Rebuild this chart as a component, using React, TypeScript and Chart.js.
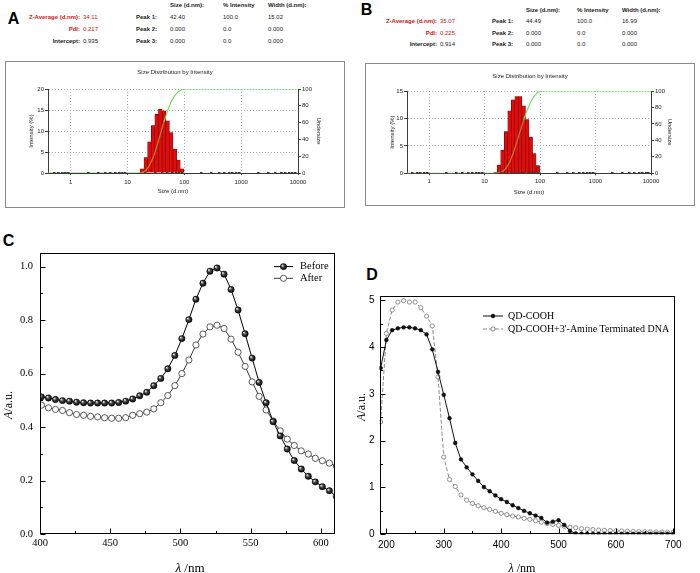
import React, { useEffect, useRef } from 'react';
import { Chart, registerables } from 'chart.js';

Chart.register(...registerables);

const SANS = '"Liberation Sans", Arial, Helvetica, sans-serif';
const SERIF = '"Liberation Serif", "Times New Roman", Times, serif';

// ---------------- Panel A / B : DLS size distribution ----------------
const BIN_SIZES = [15.69, 18.17, 21.04, 24.36, 28.21, 32.67, 37.84, 43.82, 50.75, 58.77, 68.06, 78.82, 91.28];
const A_INTENSITY = [0, 1.0, 3.7, 7.4, 11.3, 14.0, 15.2, 14.8, 12.4, 9.6, 5.7, 3.1, 1.0];
const B_INTENSITY = [0.2, 1.5, 4.2, 7.6, 11.4, 13.4, 14.0, 14.0, 12.3, 9.8, 6.6, 3.6, 1.4];

const UNDERSIZE_SIZES = [0.4, 13.54, 15.69, 18.17, 21.04, 24.36, 28.21, 32.67, 37.84, 43.82, 50.75, 58.77, 68.06, 78.82, 91.28, 105.7, 10000];
const A_UNDERSIZE = [0, 0, 0, 0.5, 3, 9, 18, 31, 46, 61, 74, 85, 92, 97, 99.5, 100, 100];
const B_UNDERSIZE = [0, 0, 0, 0.5, 2, 6, 13, 24, 37, 51, 65, 77, 87, 94, 98.5, 100, 100];

const LOG_MAJOR_TICKS = [1, 10, 100, 1000, 10000];

const TABLE_HEADERS = ['Size (d.nm):', '% Intensity', 'Width (d.nm):'];
const SUMMARY_LABELS = ['Z-Average (d.nm):', 'PdI:', 'Intercept:'];
const PEAK_LABELS = ['Peak 1:', 'Peak 2:', 'Peak 3:'];
const A_SUMMARY = ['34.11', '0.217', '0.935'];
const A_PEAKS = [['42.40', '100.0', '15.02'], ['0.000', '0.0', '0.000'], ['0.000', '0.0', '0.000']];
const B_SUMMARY = ['35.07', '0.225', '0.914'];
const B_PEAKS = [['44.49', '100.0', '16.99'], ['0.000', '0.0', '0.000'], ['0.000', '0.0', '0.000']];

// ---------------- Panel C : absorbance before / after ----------------
const C_WAVELENGTH = [401, 406, 411, 416, 421, 426, 431, 436, 441, 446, 451, 456, 461, 466, 471, 476, 481, 486, 491, 496, 501, 506, 511, 516, 521, 526, 531, 536, 541, 546, 551, 556, 561, 566, 571, 576, 581, 586, 591, 596, 601, 606, 611];
const C_BEFORE = [0.513, 0.509, 0.503, 0.499, 0.497, 0.493, 0.491, 0.490, 0.490, 0.490, 0.490, 0.492, 0.497, 0.505, 0.517, 0.530, 0.555, 0.582, 0.618, 0.668, 0.731, 0.802, 0.878, 0.938, 0.983, 0.995, 0.972, 0.915, 0.838, 0.749, 0.658, 0.567, 0.491, 0.420, 0.367, 0.318, 0.275, 0.243, 0.216, 0.195, 0.177, 0.162, 0.140];
const C_AFTER = [0.482, 0.472, 0.466, 0.462, 0.454, 0.447, 0.444, 0.440, 0.438, 0.435, 0.433, 0.433, 0.435, 0.444, 0.450, 0.456, 0.468, 0.491, 0.518, 0.555, 0.600, 0.651, 0.707, 0.748, 0.775, 0.781, 0.769, 0.729, 0.680, 0.627, 0.569, 0.515, 0.464, 0.423, 0.386, 0.355, 0.331, 0.311, 0.299, 0.283, 0.274, 0.265, 0.254];
const C_LABELS = ['Before', 'After'];

// ---------------- Panel D : QD absorbance ----------------
const D_WAVELENGTH = [190, 200, 210, 220, 230, 240, 250, 260, 270, 280, 290, 300, 310, 320, 330, 340, 350, 360, 370, 380, 390, 400, 410, 420, 430, 440, 450, 460, 470, 480, 490, 500, 510, 520, 530, 540, 550, 560, 570, 580, 590, 600, 610, 620, 630, 640, 650, 660, 670, 680, 690, 700];
const D_QD_COOH = [3.55, 4.15, 4.36, 4.40, 4.42, 4.42, 4.40, 4.36, 4.27, 3.95, 3.47, 2.98, 2.48, 1.95, 1.60, 1.43, 1.28, 1.14, 1.01, 0.92, 0.83, 0.75, 0.69, 0.62, 0.56, 0.50, 0.45, 0.40, 0.35, 0.25, 0.27, 0.30, 0.20, 0.07, 0.02, 0.015, 0.012, 0.01, 0.01, 0.01, 0.01, 0.01, 0.01, 0.01, 0.01, 0.01, 0.01, 0.01, 0.01, 0.01, 0.01, 0.01];
const D_QD_DNA = [2.40, 4.29, 4.79, 4.96, 4.99, 4.96, 4.96, 4.84, 4.66, 4.45, 3.36, 1.65, 1.17, 1.02, 0.84, 0.73, 0.66, 0.61, 0.57, 0.53, 0.49, 0.45, 0.42, 0.39, 0.37, 0.34, 0.32, 0.29, 0.26, 0.23, 0.21, 0.19, 0.17, 0.15, 0.14, 0.12, 0.11, 0.10, 0.09, 0.085, 0.08, 0.075, 0.07, 0.065, 0.06, 0.058, 0.055, 0.052, 0.05, 0.048, 0.045, 0.043];
const D_LABELS = ['QD-COOH', "QD-COOH+3'-Amine Terminated DNA"];

// ---------------- helpers ----------------
const RED = '#e40a0a';
const DARK_RED = '#5a0000';
const GREEN = '#74e06a';
const OLIVE = '#b8862a';
const AXIS = '#3a3a3a';
const GRID = '#a8a8a8';
const TXT = '#222';

function sphere(ctx: CanvasRenderingContext2D, x: number, y: number, r: number): any {
  if (!isFinite(x) || !isFinite(y) || !isFinite(r)) return '#111';
  const g = ctx.createRadialGradient(x - r * 0.4, y - r * 0.4, r * 0.1, x, y, r);
  g.addColorStop(0, '#e6e6e6');
  g.addColorStop(0.4, '#4a4a4a');
  g.addColorStop(1, '#000');
  return g;
}

function ChartCanvas({ left, top, width, height, build }: { left: number; top: number; width: number; height: number; build: () => any }) {
  const ref = useRef<HTMLCanvasElement | null>(null);
  useEffect(() => {
    if (!ref.current) return;
    const chart = new Chart(ref.current, build());
    return () => chart.destroy();
  }, []);
  return (
    <canvas
      ref={ref}
      width={width}
      height={height}
      style={{ position: 'absolute', left, top, width, height, display: 'block' }}
    />
  );
}

const logMinorTicks = {
  id: 'logMinorTicks',
  afterDraw(chart: any) {
    const xs = chart.scales.x;
    const { ctx, chartArea: a } = chart;
    ctx.save();
    ctx.fillStyle = AXIS;
    for (let e = -1; e <= 4; e++) {
      for (let s = 2; s <= 9; s++) {
        const v = s * Math.pow(10, e);
        if (v <= xs.min || v >= xs.max) continue;
        const px = xs.getPixelForValue(v);
        ctx.fillRect(Math.round(px) - 1, Math.round(a.bottom) - 1, 2.5, 2);
      }
    }
    ctx.restore();
  },
};

function dlsConfig(p: {
  intensity: number[]; undersize: number[]; yMax: number;
  yW: number; y2W: number; xH: number; titleTop: number; titleBottom: number;
  xTitlePad: number; yTitlePad: number; y2TitlePad: number; xTickPad: number;
}) {
  const f = (size: number) => ({ family: SANS, size, weight: 'normal' as const });
  const barAt = (x: number) => {
    const i = BIN_SIZES.indexOf(x);
    return i >= 0 ? p.intensity[i] : 0;
  };
  return {
    type: 'bar',
    data: {
      datasets: [
        {
          type: 'line',
          data: UNDERSIZE_SIZES.map((x, i) => ({ x, y: p.undersize[i] })),
          yAxisID: 'y2',
          borderColor: GREEN,
          borderWidth: 1.2,
          pointRadius: 0,
          tension: 0,
          order: 0,
          segment: {
            borderColor: (c: any) => {
              const x1 = c.p1.parsed.x;
              const yL = (c.p1.parsed.y * p.yMax) / 100;
              return c.p1.parsed.y > 0 && barAt(x1) > yL ? OLIVE : GREEN;
            },
          },
        },
        {
          type: 'bar',
          data: BIN_SIZES.map((x, i) => ({ x, y: p.intensity[i] })),
          yAxisID: 'y',
          backgroundColor: RED,
          borderColor: DARK_RED,
          borderWidth: 0.6,
          barPercentage: 1,
          categoryPercentage: 1,
          order: 1,
        },
      ],
    },
    options: {
      responsive: false,
      devicePixelRatio: 1,
      animation: false,
      events: [],
      layout: { padding: 0 },
      plugins: {
        legend: { display: false },
        tooltip: { enabled: false },
        title: {
          display: true,
          text: 'Size Distribution by Intensity',
          font: f(6),
          color: TXT,
          padding: { top: p.titleTop, bottom: p.titleBottom },
        },
      },
      scales: {
        x: {
          type: 'logarithmic',
          min: 0.4,
          max: 10000,
          offset: false,
          afterBuildTicks: (s: any) => {
            s.ticks = LOG_MAJOR_TICKS.map((v) => ({ value: v, major: true }));
          },
          ticks: { autoSkip: false, maxRotation: 0, padding: p.xTickPad, font: f(6), color: TXT, callback: (v: any) => String(v) },
          grid: { offset: false, color: GRID, lineWidth: 1, drawTicks: true, tickLength: 2, tickColor: AXIS },
          border: { display: true, color: AXIS, width: 1, dash: [1, 2] },
          title: { display: true, text: 'Size (d.nm)', font: f(6), color: TXT, padding: { top: 0, bottom: p.xTitlePad } },
          afterFit: (s: any) => { s.height = p.xH; },
        },
        y: {
          type: 'linear',
          position: 'left',
          min: 0,
          max: p.yMax,
          ticks: { stepSize: 5, padding: 1, font: f(6), color: TXT },
          grid: { color: GRID, lineWidth: 1, tickLength: 3, tickColor: AXIS },
          border: { display: true, color: AXIS, width: 1, dash: [1, 2] },
          title: { display: true, text: 'Intensity (%)', font: f(6), color: TXT, padding: { top: p.yTitlePad, bottom: 0 } },
          afterFit: (s: any) => { s.width = p.yW; },
        },
        y2: {
          type: 'linear',
          position: 'right',
          min: 0,
          max: 100,
          ticks: { stepSize: 20, padding: 1, font: f(6), color: TXT },
          grid: { drawOnChartArea: false, tickLength: 3, tickColor: AXIS },
          border: { display: true, color: AXIS, width: 1 },
          title: { display: true, text: 'Undersize', font: f(6), color: TXT, padding: { top: p.y2TitlePad, bottom: 0 } },
          afterFit: (s: any) => { s.width = p.y2W; },
        },
      },
    },
    plugins: [logMinorTicks],
  };
}

function frameTicks(majorLen: number, minorLen: number) {
  return {
    id: 'frameTicks',
    afterDraw(chart: any) {
      const { ctx, chartArea: a, scales } = chart;
      const xs = scales.x, ys = scales.y;
      const L = Math.round(a.left) + 0.5, R = Math.round(a.right) - 0.5;
      const T = Math.round(a.top) + 0.5, B = Math.round(a.bottom) - 0.5;
      ctx.save();
      ctx.strokeStyle = '#000';
      ctx.lineWidth = 1;
      ctx.strokeRect(L, T, R - L, B - T);
      const xv = xs.ticks.map((t: any) => t.value);
      const yv = ys.ticks.map((t: any) => t.value);
      const mids = (v: number[]) => v.slice(1).map((t, i) => (t + v[i]) / 2);
      ctx.beginPath();
      xv.forEach((v: number) => { const px = Math.round(xs.getPixelForValue(v)) + 0.5; ctx.moveTo(px, B); ctx.lineTo(px, B - majorLen); });
      mids(xv).forEach((v: number) => { const px = Math.round(xs.getPixelForValue(v)) + 0.5; ctx.moveTo(px, B); ctx.lineTo(px, B - minorLen); });
      yv.forEach((v: number) => { const py = Math.round(ys.getPixelForValue(v)) + 0.5; ctx.moveTo(L, py); ctx.lineTo(L + majorLen, py); });
      mids(yv).forEach((v: number) => { const py = Math.round(ys.getPixelForValue(v)) + 0.5; ctx.moveTo(L, py); ctx.lineTo(L + minorLen, py); });
      ctx.stroke();
      ctx.restore();
    },
  };
}

function legendPlugin(labels: string[], pos: (a: any) => { x1: number; x2: number; tx: number; ys: number[] }, font: string) {
  return {
    id: 'inlineLegend',
    afterDraw(chart: any) {
      const ctx = chart.ctx as CanvasRenderingContext2D;
      const p = pos(chart.chartArea);
      ctx.save();
      labels.forEach((label, k) => {
        const ds = chart.data.datasets[k];
        const y = p.ys[k];
        ctx.strokeStyle = ds.borderColor;
        ctx.lineWidth = ds.borderWidth;
        ctx.setLineDash(ds.borderDash || []);
        ctx.beginPath();
        ctx.moveTo(p.x1, y);
        ctx.lineTo(p.x2, y);
        ctx.stroke();
        ctx.setLineDash([]);
        const mx = (p.x1 + p.x2) / 2;
        const r = ds.pointRadius;
        ctx.beginPath();
        ctx.arc(mx, y, r, 0, Math.PI * 2);
        ctx.fillStyle = typeof ds.pointBackgroundColor === 'function' ? sphere(ctx, mx, y, r) : ds.pointBackgroundColor;
        ctx.fill();
        ctx.lineWidth = ds.pointBorderWidth;
        ctx.strokeStyle = ds.pointBorderColor;
        ctx.stroke();
        ctx.fillStyle = '#000';
        ctx.font = font;
        ctx.textAlign = 'left';
        ctx.textBaseline = 'middle';
        ctx.fillText(label, p.tx, y);
      });
      ctx.restore();
    },
  };
}

function sphereColor(r: number) {
  return (c: any) => {
    if (!c || c.type !== 'data' || !c.parsed) return '#111';
    const ch = c.chart;
    const xs = ch.scales && ch.scales.x, ys = ch.scales && ch.scales.y;
    if (!xs || !ys) return '#111';
    return sphere(ch.ctx, xs.getPixelForValue(c.parsed.x), ys.getPixelForValue(c.parsed.y), r);
  };
}

function cConfig() {
  const tickFont = { family: SERIF, size: 10.5 };
  return {
    type: 'line',
    data: {
      datasets: [
        {
          label: C_LABELS[0],
          data: C_WAVELENGTH.map((x, i) => ({ x, y: C_BEFORE[i] })),
          borderColor: '#000',
          borderWidth: 1,
          tension: 0,
          pointRadius: 3.2,
          pointBorderWidth: 0.4,
          pointBorderColor: '#000',
          pointBackgroundColor: sphereColor(3.2),
        },
        {
          label: C_LABELS[1],
          data: C_WAVELENGTH.map((x, i) => ({ x, y: C_AFTER[i] })),
          borderColor: '#222',
          borderWidth: 0.9,
          tension: 0,
          pointRadius: 3.1,
          pointBorderWidth: 0.8,
          pointBorderColor: '#333',
          pointBackgroundColor: '#fff',
        },
      ],
    },
    options: {
      responsive: false,
      devicePixelRatio: 1,
      animation: false,
      events: [],
      layout: { padding: { top: 10, right: 10, left: 0, bottom: 0 } },
      plugins: { legend: { display: false }, tooltip: { enabled: false }, title: { display: false } },
      scales: {
        x: {
          type: 'linear',
          min: 400,
          max: 610,
          ticks: { stepSize: 50, includeBounds: false, padding: 3, font: tickFont, color: '#000', maxRotation: 0, autoSkip: false },
          grid: { display: false, drawTicks: false },
          border: { display: false },
          afterFit: (s: any) => { s.height = 39; },
        },
        y: {
          type: 'linear',
          min: 0,
          max: 1.05,
          ticks: { stepSize: 0.2, includeBounds: false, padding: 7, font: tickFont, color: '#000', callback: (v: any) => Number(v).toFixed(1) },
          grid: { display: false, drawTicks: false },
          border: { display: false },
          afterFit: (s: any) => { s.width = 40; },
        },
      },
    },
    plugins: [
      frameTicks(5, 2.5),
      legendPlugin(C_LABELS, (a) => ({ x1: a.right - 61, x2: a.right - 42, tx: a.right - 35, ys: [a.top + 13.3, a.top + 25] }), `10.5px ${SERIF}`),
    ],
  };
}

function dConfig() {
  const tickFont = { family: SANS, size: 10 };
  return {
    type: 'line',
    data: {
      datasets: [
        {
          label: D_LABELS[0],
          data: D_WAVELENGTH.map((x, i) => ({ x, y: D_QD_COOH[i] })),
          borderColor: '#111',
          borderWidth: 1,
          tension: 0,
          pointRadius: 1.9,
          pointBorderWidth: 0.5,
          pointBorderColor: '#000',
          pointBackgroundColor: '#111',
        },
        {
          label: D_LABELS[1],
          data: D_WAVELENGTH.map((x, i) => ({ x, y: D_QD_DNA[i] })),
          borderColor: '#8a8a8a',
          borderWidth: 1,
          borderDash: [4, 2],
          tension: 0,
          pointRadius: 2.1,
          pointBorderWidth: 0.8,
          pointBorderColor: '#777',
          pointBackgroundColor: '#fff',
        },
      ],
    },
    options: {
      responsive: false,
      devicePixelRatio: 1,
      animation: false,
      events: [],
      layout: { padding: { top: 11, right: 25, left: 0, bottom: 0 } },
      plugins: { legend: { display: false }, tooltip: { enabled: false }, title: { display: false } },
      scales: {
        x: {
          type: 'linear',
          min: 188,
          max: 703,
          ticks: { stepSize: 100, includeBounds: false, padding: 5, font: tickFont, color: '#000', maxRotation: 0, autoSkip: false },
          grid: { display: false, drawTicks: false },
          border: { display: false },
          afterFit: (s: any) => { s.height = 38.7; },
        },
        y: {
          type: 'linear',
          min: 0,
          max: 5.09,
          ticks: { stepSize: 1, includeBounds: false, padding: 5, font: tickFont, color: '#000' },
          grid: { display: false, drawTicks: false },
          border: { display: false },
          afterFit: (s: any) => { s.width = 29.5; },
        },
      },
    },
    plugins: [
      frameTicks(5, 2.5),
      legendPlugin(D_LABELS, (a) => ({ x1: a.left + 103.5, x2: a.left + 123.5, tx: a.left + 128.5, ys: [a.top + 20, a.top + 33] }), `10px ${SERIF}`),
    ],
  };
}

// ---------------- HTML text helpers ----------------
function T({ x, y, size, children, bold, color = '#000', align = 'left', family = SANS }: {
  x: number; y: number; size: number; children: React.ReactNode; bold?: boolean; color?: string; align?: 'left' | 'right' | 'center'; family?: string;
}) {
  const style: React.CSSProperties = {
    position: 'absolute',
    top: y - size / 2,
    fontSize: size,
    lineHeight: `${size}px`,
    fontFamily: family,
    fontWeight: bold ? 700 : 400,
    color,
    whiteSpace: 'nowrap',
  };
  if (align === 'right') style.right = 700 - x;
  else if (align === 'center') { style.left = x; style.transform = 'translateX(-50%)'; }
  else style.left = x;
  return <div style={style}>{children}</div>;
}

function RT({ x, y, size, children, family = SERIF }: { x: number; y: number; size: number; children: React.ReactNode; family?: string }) {
  return (
    <div
      style={{
        position: 'absolute', left: x, top: y, fontSize: size, lineHeight: `${size}px`, fontFamily: family,
        whiteSpace: 'nowrap', transform: 'translate(-50%, -50%) rotate(-90deg)', color: '#000',
      }}
    >
      {children}
    </div>
  );
}

function DlsTable({ letter, letterX, letterY, headerY, rowYs, labelRight, valueX, peakX, colX, summary, peaks }: {
  letter: string; letterX: number; letterY: number; headerY: number; rowYs: number[]; labelRight: number; valueX: number; peakX: number; colX: number[]; summary: string[]; peaks: string[][];
}) {
  const red = '#cc2020';
  return (
    <>
      <T x={letterX} y={letterY} size={16} bold align="center">{letter}</T>
      {TABLE_HEADERS.map((h, i) => (
        <T key={'h' + i} x={colX[i]} y={headerY} size={6} bold color="#222">{h}</T>
      ))}
      {SUMMARY_LABELS.map((l, i) => (
        <T key={'l' + i} x={labelRight} y={rowYs[i]} size={6} bold align="right" color={i < 2 ? red : '#222'}>{l}</T>
      ))}
      {summary.map((v, i) => (
        <T key={'v' + i} x={valueX} y={rowYs[i]} size={6} color={i < 2 ? red : '#222'}>{v}</T>
      ))}
      {PEAK_LABELS.map((l, i) => (
        <T key={'p' + i} x={peakX} y={rowYs[i]} size={6} bold color="#222">{l}</T>
      ))}
      {peaks.map((row, i) =>
        row.map((v, j) => (
          <T key={`c${i}-${j}`} x={colX[j]} y={rowYs[i]} size={6} color="#222">{v}</T>
        ))
      )}
    </>
  );
}

export default function App() {
  const boxStyle = (left: number, top: number, width: number, height: number): React.CSSProperties => ({
    position: 'absolute', left, top, width, height, border: '1px solid #8a8a8a', boxSizing: 'border-box', background: '#fff',
  });
  return (
    <div style={{ position: 'absolute', left: 0, top: 0, width: 700, height: 573, background: '#fff', overflow: 'hidden' }}>
      {/* Panel A */}
      <DlsTable
        letter="A" letterX={13.5} letterY={18.5} headerY={5} rowYs={[17, 29, 41]}
        labelRight={80} valueX={83} peakX={136} colX={[170, 223, 268]}
        summary={A_SUMMARY} peaks={A_PEAKS}
      />
      <div style={boxStyle(5, 61, 340, 147)} />
      <ChartCanvas
        left={6} top={62} width={338} height={145}
        build={() => dlsConfig({
          intensity: A_INTENSITY, undersize: A_UNDERSIZE, yMax: 20,
          yW: 42, y2W: 46, xH: 34, titleTop: 6.8, titleBottom: 13,
          xTitlePad: 11.9, yTitlePad: 22.1, y2TitlePad: 22.1, xTickPad: 3.4,
        })}
      />

      {/* Panel B */}
      <DlsTable
        letter="B" letterX={366.5} letterY={9.5} headerY={10} rowYs={[21, 33, 44]}
        labelRight={437} valueX={440} peakX={492} colX={[526, 577, 622]}
        summary={B_SUMMARY} peaks={B_PEAKS}
      />
      <div style={boxStyle(365, 63, 330, 143)} />
      <ChartCanvas
        left={366} top={64} width={328} height={141}
        build={() => dlsConfig({
          intensity: B_INTENSITY, undersize: B_UNDERSIZE, yMax: 15,
          yW: 41, y2W: 43, xH: 31.7, titleTop: 8.4, titleBottom: 11.4,
          xTitlePad: 9.4, yTitlePad: 22.7, y2TitlePad: 21.1, xTickPad: 2.8,
        })}
      />

      {/* Panel C */}
      <T x={8.5} y={241} size={16} bold align="center">C</T>
      <ChartCanvas left={0} top={240} width={345} height={333} build={cConfig} />
      <T x={190} y={567} size={13} align="center" family={SERIF}><i>λ</i> /nm</T>
      <RT x={8} y={405} size={12}><i>A</i>/a.u.</RT>

      {/* Panel D */}
      <T x={372} y={275} size={16} bold align="center">D</T>
      <ChartCanvas left={350} top={285} width={350} height={288} build={dConfig} />
      <T x={522} y={567.5} size={12} align="center" family={SERIF}><i>λ</i> /nm</T>
      <RT x={360.5} y={407} size={12}><i>A</i>/a.u.</RT>
    </div>
  );
}
